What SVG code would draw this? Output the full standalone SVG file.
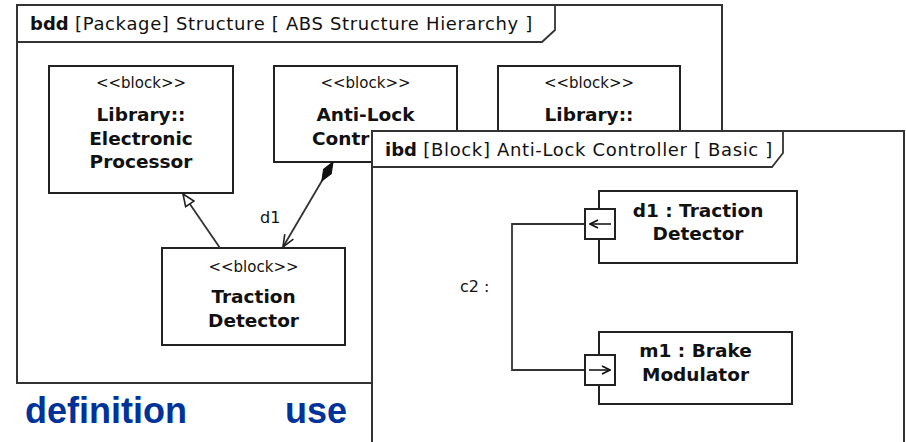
<svg xmlns="http://www.w3.org/2000/svg" width="906" height="442" viewBox="0 0 906 442">
  <defs>
    <marker id="hollowTri" viewBox="0 0 14 12" refX="13" refY="6" markerWidth="14" markerHeight="12" markerUnits="userSpaceOnUse" orient="auto">
      <path d="M1,1 L13,6 L1,11 Z" fill="#fff" stroke="#222" stroke-width="1.6"/>
    </marker>
    <marker id="openArrow" viewBox="0 0 14 12" refX="13" refY="6" markerWidth="14" markerHeight="12" markerUnits="userSpaceOnUse" orient="auto">
      <path d="M1,1 L13,6 L1,11" fill="none" stroke="#222" stroke-width="1.6"/>
    </marker>
    <marker id="diamond" viewBox="0 0 24 12" refX="1" refY="6" markerWidth="24" markerHeight="12" markerUnits="userSpaceOnUse" orient="auto">
      <path d="M1,6 L12,1.5 L23,6 L12,10.5 Z" fill="#111" stroke="#111" stroke-width="1"/>
    </marker>
    <marker id="portArrow" viewBox="0 0 10 10" refX="9" refY="5" markerWidth="10" markerHeight="10" markerUnits="userSpaceOnUse" orient="auto">
      <path d="M1,1 L9,5 L1,9" fill="none" stroke="#111" stroke-width="1.6"/>
    </marker>
  </defs>
  <style>
    .frame { fill: #fff; stroke: #333; stroke-width: 2; }
    .box { fill: #fff; stroke: #222; stroke-width: 2; }
    .line { fill: none; stroke: #333; stroke-width: 1.8; }
    .title { font-family: "DejaVu Sans", Verdana, sans-serif; font-size: 18px; letter-spacing: 0.65px; fill: #111; }
    .tb { font-family: "DejaVu Sans", Verdana, sans-serif; font-weight: bold; letter-spacing: 0; }
    .stereo { font-family: "DejaVu Sans", Verdana, sans-serif; font-size: 15px; fill: #111; text-anchor: middle; }
    .name { font-family: "DejaVu Sans", Verdana, sans-serif; font-weight: bold; font-size: 18.5px; fill: #111; text-anchor: middle; }
    .lbl { font-family: "DejaVu Sans", Verdana, sans-serif; font-size: 16px; fill: #111; }
    .caption { font-family: "Liberation Sans", Arial, sans-serif; font-weight: bold; font-size: 36px; fill: #003399; }
  </style>

  <!-- bdd frame -->
  <g id="bdd-frame">
    <rect class="frame" x="17" y="5" width="705" height="378"/>
    <path class="line" d="M17,42 H542 L555,30 V5"/>
    <text class="title" x="30" y="30"><tspan class="tb">bdd</tspan> [Package] Structure [ ABS Structure Hierarchy ]</text>
  </g>

  <g id="block-electronic-processor">
    <rect class="box" x="49" y="66" width="184" height="127"/>
    <text class="stereo" x="141" y="88">&lt;&lt;block&gt;&gt;</text>
    <text class="name" x="141" y="121">Library::</text>
    <text class="name" x="141" y="145">Electronic</text>
    <text class="name" x="141" y="168">Processor</text>
  </g>

  <g id="block-anti-lock-controller">
    <rect class="box" x="274" y="66" width="183" height="96"/>
    <text class="stereo" x="365.5" y="88">&lt;&lt;block&gt;&gt;</text>
    <text class="name" x="365.5" y="121">Anti-Lock</text>
    <text class="name" x="312" y="145" style="text-anchor:start">Contr</text>
  </g>

  <g id="block-library-3">
    <rect class="box" x="498" y="66" width="182" height="96"/>
    <text class="stereo" x="589" y="88">&lt;&lt;block&gt;&gt;</text>
    <text class="name" x="589" y="121">Library::</text>
  </g>

  <g id="block-traction-detector">
    <rect class="box" x="162" y="248" width="183" height="97"/>
    <text class="stereo" x="253.5" y="272">&lt;&lt;block&gt;&gt;</text>
    <text class="name" x="253.5" y="303">Traction</text>
    <text class="name" x="253.5" y="327">Detector</text>
  </g>

  <g id="bdd-connectors">
    <line class="line" x1="220" y1="248" x2="183" y2="194" marker-end="url(#hollowTri)"/>
    <line class="line" x1="333" y1="162" x2="283" y2="247" marker-start="url(#diamond)" marker-end="url(#openArrow)"/>
    <text class="lbl" x="260" y="223">d1</text>
  </g>

  <!-- ibd frame -->
  <g id="ibd-frame">
    <rect class="frame" x="372" y="131" width="532" height="330"/>
    <path class="line" d="M372,167 H772 L783,153 V131"/>
    <text class="title" x="385" y="156"><tspan class="tb">ibd</tspan> [Block] Anti-Lock Controller [ Basic ]</text>
  </g>

  <g id="part-d1">
    <rect class="box" x="599" y="191" width="198" height="72"/>
    <text class="name" x="698" y="217">d1 : Traction</text>
    <text class="name" x="698" y="240">Detector</text>
  </g>

  <g id="part-m1">
    <rect class="box" x="599" y="332" width="193" height="72"/>
    <text class="name" x="695.5" y="357">m1 : Brake</text>
    <text class="name" x="695.5" y="381">Modulator</text>
  </g>

  <g id="ibd-connectors">
    <path class="line" d="M585,224 H512 V370 H585"/>
    <text class="lbl" x="460" y="292">c2 :</text>
  </g>

  <g id="port-d1">
    <rect class="box" x="585" y="209" width="30" height="30"/>
    <line class="line" x1="611" y1="224" x2="590" y2="224" marker-end="url(#portArrow)"/>
  </g>
  <g id="port-m1">
    <rect class="box" x="585" y="355" width="30" height="30"/>
    <line class="line" x1="589" y1="370" x2="610" y2="370" marker-end="url(#portArrow)"/>
  </g>

  <g id="captions">
    <text class="caption" x="25" y="423">definition</text>
    <text class="caption" x="285" y="423">use</text>
  </g>
</svg>
